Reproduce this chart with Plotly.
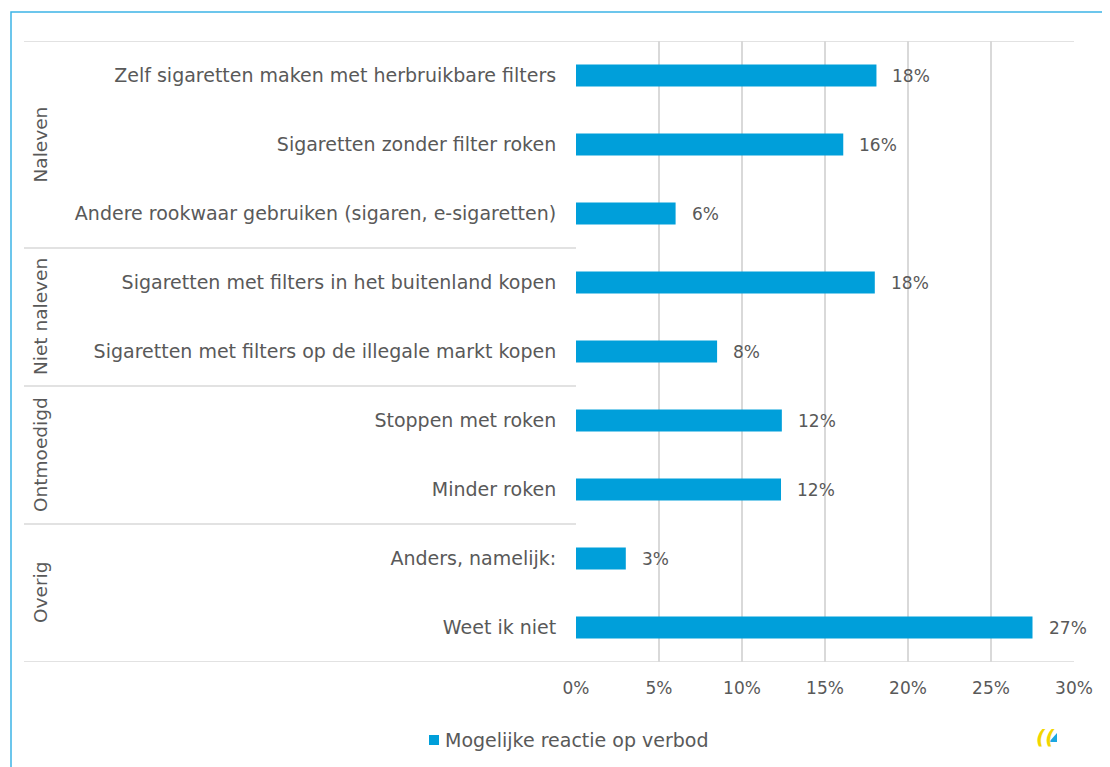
import plotly.graph_objects as go

categories = [
    "Zelf sigaretten maken met herbruikbare filters",
    "Sigaretten zonder filter roken",
    "Andere rookwaar gebruiken (sigaren, e-sigaretten)",
    "Sigaretten met filters in het buitenland kopen",
    "Sigaretten met filters op de illegale markt kopen",
    "Stoppen met roken",
    "Minder roken",
    "Anders, namelijk:",
    "Weet ik niet",
]
values = [18.1, 16.1, 6.0, 18.0, 8.5, 12.4, 12.35, 3.0, 27.5]
value_labels = ["18%", "16%", "6%", "18%", "8%", "12%", "12%", "3%", "27%"]
groups = ["Naleven", "Niet naleven", "Ontmoedigd", "Overig"]
group_sizes = [3, 2, 2, 2]
x_ticks = [0, 5, 10, 15, 20, 25, 30]
x_ticklabels = ["0%", "5%", "10%", "15%", "20%", "25%", "30%"]
series_name = "Mogelijke reactie op verbod"

BAR = "#009fda"
TXT = "#595959"
GRID = "#d9d9d9"
FONT = "DejaVu Sans"
FS_TXT = 19
FS_NUM = 17
FS_GRP = 18.5

# page has an 8px body margin; figure coordinates = screen coordinates - 8
OFF = 8
W, H = 1110 - OFF, 767 - OFF
PX0, PX1, PY0, PY1 = 576, 1074, 41, 662  # plot area in screen pixels
L, R, T, B = PX0 - OFF, W - (PX1 - OFF), PY0 - OFF, H - (PY1 - OFF)

def sx(px):
    return (px - PX0) / (PX1 - PX0)

def sy(py):
    return (PY1 - py) / (PY1 - PY0)

idx = list(range(len(categories)))

fig = go.Figure()
fig.add_trace(go.Bar(
    x=values, y=idx, orientation="h", name=series_name,
    marker=dict(color=BAR, line=dict(width=0)),
    width=0.32, showlegend=False,
    hovertemplate="%{x}%<extra></extra>",
))

shapes = []
annotations = []
# outer blue frame (only left and top edges visible)
shapes.append(dict(type="rect", xref="paper", yref="paper",
                   x0=sx(11), x1=sx(1140), y0=sy(800), y1=sy(12),
                   line=dict(color="#3cb4e6", width=1.5), layer="below"))
# top and bottom lines across full width
for yv in [-0.5, len(categories) - 0.5]:
    shapes.append(dict(type="line", xref="paper", yref="y",
                       x0=sx(24), x1=1, y0=yv, y1=yv,
                       line=dict(color=GRID, width=1.5)))
# group separators and labels
start = 0
for g, n in zip(groups, group_sizes):
    end = start + n
    if end < len(categories):
        shapes.append(dict(type="line", xref="paper", yref="y",
                           x0=sx(24), x1=0, y0=end - 0.5, y1=end - 0.5,
                           line=dict(color=GRID, width=1.5)))
    annotations.append(dict(x=sx(40), xref="paper",
                            y=(start + end - 1) / 2, yref="y",
                            text=g, textangle=-90, showarrow=False,
                            font=dict(family=FONT, size=FS_GRP, color=TXT),
                            xanchor="center", yanchor="middle"))
    start = end

# data labels
for v, lab, i in zip(values, value_labels, idx):
    annotations.append(dict(x=v, y=i, xref="x", yref="y", text=lab,
                            showarrow=False, xanchor="left", yanchor="middle",
                            xshift=14, font=dict(family=FONT, size=FS_NUM, color=TXT)))

# legend (manual)
shapes.append(dict(type="rect", xref="paper", yref="paper",
                   x0=sx(429), x1=sx(439), y0=sy(745), y1=sy(735),
                   fillcolor=BAR, line=dict(width=0)))
annotations.append(dict(x=sx(443), y=sy(740), xref="paper", yref="paper",
                        text=series_name, showarrow=False,
                        xanchor="left", yanchor="middle",
                        font=dict(family=FONT, size=FS_TXT, color=TXT)))

# small logo approximation
annotations.append(dict(x=sx(1045), y=sy(737), xref="paper", yref="paper",
                        text="<b><i>((</i></b>", showarrow=False,
                        font=dict(family=FONT, size=20, color="#f2d600"),
                        xanchor="center", yanchor="middle"))
shapes.append(dict(type="path", xref="paper", yref="paper",
                   path=f"M {sx(1049)},{sy(742)} L {sx(1057)},{sy(742)} L {sx(1057)},{sy(733)} Z",
                   fillcolor="#1aa7e0", line=dict(width=0)))

fig.update_layout(
    width=W, height=H,
    margin=dict(l=L, r=R, t=T, b=B),
    paper_bgcolor="white", plot_bgcolor="white",
    font=dict(family=FONT, size=FS_TXT, color=TXT),
    showlegend=False,
    xaxis=dict(range=[0, 30], tickvals=x_ticks, ticktext=x_ticklabels,
               showgrid=True, gridcolor=GRID, gridwidth=1.5,
               zeroline=False, showline=False,
               ticks="outside", ticklen=11, tickcolor="rgba(0,0,0,0)",
               tickfont=dict(family=FONT, size=FS_NUM, color=TXT)),
    yaxis=dict(range=[len(categories) - 0.5, -0.5], tickvals=idx, ticktext=categories,
               showgrid=False, zeroline=False, showline=False,
               ticks="outside", ticklen=15, tickcolor="rgba(0,0,0,0)",
               tickfont=dict(family=FONT, size=FS_TXT, color=TXT)),
    shapes=shapes, annotations=annotations,
)

fig.write_html("out.html")
